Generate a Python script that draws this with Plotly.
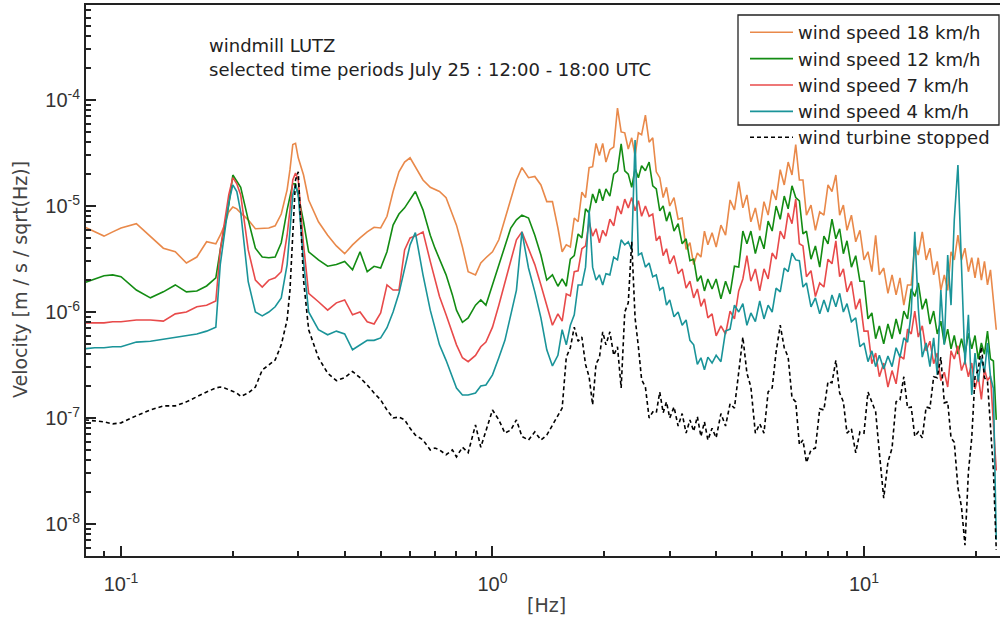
import plotly.graph_objects as go

# ---------------- data ----------------
FREQ_HZ = [
    # 0.08 - 1.45 Hz
    0.08, 0.085, 0.09, 0.095, 0.1, 0.11, 0.12, 0.13, 0.14, 0.15,
    0.16, 0.17, 0.18, 0.185, 0.19, 0.195, 0.2, 0.205, 0.21, 0.22,
    0.23, 0.24, 0.25, 0.26, 0.27, 0.28, 0.285, 0.29, 0.295, 0.3,
    0.31, 0.32, 0.34, 0.36, 0.38, 0.4, 0.42, 0.44, 0.46, 0.48,
    0.5, 0.52, 0.54, 0.56, 0.58, 0.6, 0.62, 0.65, 0.68, 0.7,
    0.72, 0.75, 0.78, 0.8, 0.83, 0.86, 0.9, 0.93, 0.96, 1.0,
    1.04, 1.08, 1.12, 1.16, 1.2, 1.25, 1.3, 1.35, 1.4, 1.45,
    # 1.5 - 22.7 Hz
    1.5, 1.54, 1.58, 1.62, 1.66, 1.7, 1.74, 1.78, 1.82, 1.86,
    1.9, 1.94, 1.98, 2.02, 2.07, 2.12, 2.17, 2.22, 2.27, 2.32,
    2.37, 2.42, 2.47, 2.52, 2.58, 2.64, 2.7, 2.76, 2.82, 2.88,
    2.94, 3.0, 3.08, 3.16, 3.24, 3.32, 3.4, 3.48, 3.56, 3.64,
    3.72, 3.8, 3.9, 4.0, 4.12, 4.24, 4.36, 4.48, 4.6, 4.72,
    4.84, 4.96, 5.1, 5.24, 5.38, 5.52, 5.66, 5.8, 5.95, 6.1,
    6.25, 6.4, 6.55, 6.7, 6.85, 7.0, 7.2, 7.4, 7.6, 7.8,
    8.0, 8.2, 8.4, 8.6, 8.8, 9.0, 9.25, 9.5, 9.75, 10.0,
    10.25, 10.5, 10.75, 11.0, 11.3, 11.6, 11.9, 12.2, 12.5, 12.8,
    13.1, 13.4, 13.7, 14.0, 14.35, 14.7, 15.05, 15.4, 15.75, 16.1,
    16.45, 16.8, 17.15, 17.5, 17.9, 18.3, 18.7, 19.1, 19.5, 19.9,
    20.3, 20.7, 21.1, 21.5, 21.9, 22.3, 22.7,
]

WIND_18 = [
    6.3e-6, 5.7e-6, 5.2e-6, 5.7e-6, 6.2e-6, 6.8e-6, 5.1e-6, 4.0e-6, 3.7e-6, 2.9e-6,
    3.3e-6, 4.6e-6, 4.4e-6, 5.3e-6, 6.6e-6, 8.8e-6, 9.8e-6, 9.4e-6, 8.6e-6, 7.4e-6,
    6.1e-6, 6.1e-6, 6.2e-6, 6.5e-6, 8.4e-6, 1.42e-5, 2.2e-5, 3.8e-5, 3.9e-5, 2.85e-5,
    1.96e-5, 1.14e-5, 7.1e-6, 5.3e-6, 4.2e-6, 3.55e-6, 4.3e-6, 5.0e-6, 5.7e-6, 6.3e-6,
    6.2e-6, 8.0e-6, 1.37e-5, 2.1e-5, 2.6e-5, 2.85e-5, 2.35e-5, 1.76e-5, 1.5e-5, 1.42e-5,
    1.37e-5, 1.2e-5, 8.2e-6, 6.6e-6, 4.1e-6, 2.4e-6, 2.24e-6, 2.9e-6, 3.25e-6, 3.7e-6,
    4.8e-6, 7.4e-6, 1.14e-5, 1.76e-5, 2.3e-5, 1.85e-5, 1.9e-5, 1.58e-5, 1.1e-5, 1.1e-5,
    6.2e-6, 3.7e-6, 4.3e-6, 4.1e-6, 7.7e-6, 7.1e-6, 1.35e-5, 1.2e-5, 2.3e-5, 2.35e-5,
    3.9e-5, 3.0e-5, 3.9e-5, 2.6e-5, 3.4e-5, 3.6e-5, 8.4e-5, 5.0e-5, 4.9e-5, 3.45e-5,
    4.4e-5, 3.0e-5, 4.9e-5, 4.7e-5, 7.2e-5, 4.0e-5, 4.4e-5, 2.1e-5, 1.85e-5, 1.2e-5,
    1.5e-5, 1.0e-5, 1.2e-5, 7.5e-6, 7.7e-6, 3.9e-6, 4.5e-6, 2.8e-6, 3.6e-6, 3.3e-6,
    5.8e-6, 4.3e-6, 5.6e-6, 4.1e-6, 6.6e-6, 5.3e-6, 1.14e-5, 9.2e-6, 1.7e-5, 9.6e-6,
    1.27e-5, 7.1e-6, 9.6e-6, 5.9e-6, 1.1e-5, 8.2e-6, 1.42e-5, 1.14e-5, 2.2e-5, 1.58e-5,
    2.6e-5, 1.96e-5, 3.8e-5, 1.76e-5, 1.76e-5, 8.2e-6, 1.02e-5, 5.9e-6, 8.8e-6, 8.2e-6,
    1.58e-5, 1.37e-5, 1.96e-5, 8.2e-6, 1.02e-5, 5.9e-6, 8.2e-6, 4.6e-6, 5.9e-6, 3.1e-6,
    3.7e-6, 2.4e-6, 5.3e-6, 2.24e-6, 2.6e-6, 1.5e-6, 2.24e-6, 1.45e-6, 2.1e-6, 1.16e-6,
    1.8e-6, 1.8e-6, 4.3e-6, 3.45e-6, 5.7e-6, 3.1e-6, 4.0e-6, 2.24e-6, 3.0e-6, 1.6e-6,
    2.24e-6, 1.6e-6, 3.7e-6, 3.1e-6, 5.3e-6, 3.1e-6, 4.0e-6, 2.4e-6, 3.25e-6, 2.1e-6,
    3.25e-6, 2.0e-6, 3.0e-6, 1.8e-6, 2.5e-6, 1.3e-6, 6.8e-7,
]

WIND_12 = [
    1.9e-6, 2.05e-6, 2.2e-6, 2.24e-6, 2.15e-6, 1.61e-6, 1.36e-6, 1.55e-6, 1.8e-6, 1.55e-6,
    1.58e-6, 1.76e-6, 2.1e-6, 3.85e-6, 6.2e-6, 1.02e-5, 1.96e-5, 1.7e-5, 1.5e-5, 7.4e-6,
    4.0e-6, 3.3e-6, 3.25e-6, 3.3e-6, 4.5e-6, 9.2e-6, 1.27e-5, 1.62e-5, 1.62e-5, 1.27e-5,
    7.1e-6, 3.7e-6, 3.1e-6, 2.7e-6, 2.8e-6, 3.0e-6, 2.5e-6, 3.7e-6, 2.4e-6, 2.7e-6,
    2.6e-6, 3.7e-6, 6.6e-6, 8.4e-6, 9.6e-6, 1.14e-5, 1.37e-5, 9.2e-6, 5.3e-6, 4.0e-6,
    3.1e-6, 2.24e-6, 1.45e-6, 1.04e-6, 8.0e-7, 8.8e-7, 1.16e-6, 1.3e-6, 1.16e-6, 1.8e-6,
    2.8e-6, 4.3e-6, 6.2e-6, 7.4e-6, 8.2e-6, 7.7e-6, 5.3e-6, 3.45e-6, 2.0e-6, 2.24e-6,
    1.75e-6, 2.05e-6, 1.75e-6, 3.15e-6, 3.4e-6, 5.45e-6, 5.0e-6, 9.4e-6, 8.6e-6, 1.3e-5,
    1.07e-5, 1.45e-5, 1.12e-5, 1.45e-5, 1.24e-5, 2.0e-5, 2.15e-5, 3.85e-5, 2.15e-5, 2.0e-5,
    1.5e-5, 2.25e-5, 1.85e-5, 2.4e-5, 2.15e-5, 2.6e-5, 1.55e-5, 1.45e-5, 9.0e-6, 1.0e-5,
    7.2e-6, 8.8e-6, 5.8e-6, 6.8e-6, 4.4e-6, 4.9e-6, 3.05e-6, 3.15e-6, 1.95e-6, 2.2e-6,
    1.58e-6, 2.05e-6, 1.65e-6, 2.05e-6, 1.33e-6, 1.95e-6, 1.48e-6, 2.7e-6, 2.65e-6, 5.8e-6,
    4.4e-6, 5.8e-6, 3.55e-6, 5.2e-6, 3.95e-6, 7.2e-6, 5.8e-6, 1.0e-5, 7.5e-6, 1.24e-5,
    9.4e-6, 1.55e-5, 1.2e-5, 1.12e-5, 5.45e-6, 5.8e-6, 3.15e-6, 4.2e-6, 2.65e-6, 5.2e-6,
    4.4e-6, 7.5e-6, 4.9e-6, 6.1e-6, 3.55e-6, 4.7e-6, 2.65e-6, 3.4e-6, 1.95e-6, 1.95e-6,
    8.6e-7, 9.8e-7, 5.6e-7, 7.4e-7, 5.0e-7, 7.7e-7, 5.6e-7, 8.6e-7, 6.2e-7, 1.02e-6,
    8.6e-7, 1.65e-6, 1.4e-6, 1.88e-6, 1.06e-6, 1.33e-6, 7.7e-7, 1.02e-6, 6.2e-7, 8.2e-7,
    5.0e-7, 6.9e-7, 4.5e-7, 6.0e-7, 4.0e-7, 5.6e-7, 4.0e-7, 6.3e-7, 4.5e-7, 6.0e-7,
    3.6e-7, 5.1e-7, 4.0e-7, 6.6e-7, 3.6e-7, 3.45e-7, 9.6e-8,
]

WIND_7 = [
    7.9e-7, 7.9e-7, 7.9e-7, 8.1e-7, 8.1e-7, 8.4e-7, 8.4e-7, 8.2e-7, 9.6e-7, 1.0e-6,
    1.12e-6, 1.16e-6, 1.27e-6, 3.85e-6, 7.1e-6, 1.27e-5, 1.85e-5, 1.62e-5, 1.27e-5, 3.85e-6,
    2.0e-6, 1.72e-6, 2.0e-6, 2.1e-6, 2.4e-6, 5.3e-6, 9.2e-6, 1.76e-5, 2.05e-5, 1.76e-5,
    4.3e-6, 1.5e-6, 1.25e-6, 1.04e-6, 1.22e-6, 1.3e-6, 9.4e-7, 1.0e-6, 8.1e-7, 7.7e-7,
    9.8e-7, 1.8e-6, 1.61e-6, 1.61e-6, 3.85e-6, 5.0e-6, 5.2e-6, 5.7e-6, 3.0e-6, 2.0e-6,
    1.4e-6, 9.4e-7, 6.5e-7, 4.9e-7, 3.7e-7, 3.4e-7, 3.9e-7, 4.7e-7, 5.2e-7, 7.2e-7,
    1.16e-6, 1.93e-6, 3.0e-6, 4.8e-6, 5.7e-6, 4.0e-6, 2.8e-6, 1.8e-6, 1.16e-6, 7.5e-7,
    9.6e-7, 8.2e-7, 1.48e-6, 1.42e-6, 2.4e-6, 2.45e-6, 3.95e-6, 4.2e-6, 7.1e-6, 5.2e-6,
    6.1e-6, 4.5e-6, 5.9e-6, 5.2e-6, 7.5e-6, 6.5e-6, 1.0e-5, 8.4e-6, 1.16e-5, 9.6e-6,
    1.2e-5, 9.0e-6, 1.12e-5, 8.0e-6, 1.0e-5, 8.0e-6, 8.4e-6, 4.7e-6, 5.2e-6, 3.4e-6,
    3.95e-6, 2.85e-6, 3.4e-6, 2.3e-6, 2.55e-6, 1.68e-6, 1.95e-6, 1.36e-6, 1.65e-6, 1.13e-6,
    1.33e-6, 8.8e-7, 9.6e-7, 5.95e-7, 7.4e-7, 6.2e-7, 1.02e-6, 8.6e-7, 1.58e-6, 2.05e-6,
    3.4e-6, 1.95e-6, 2.55e-6, 1.58e-6, 2.55e-6, 2.05e-6, 3.6e-6, 3.15e-6, 5.8e-6, 4.9e-6,
    8.6e-6, 6.8e-6, 1.16e-5, 4.4e-6, 4.2e-6, 2.15e-6, 2.45e-6, 1.4e-6, 1.88e-6, 1.72e-6,
    3.15e-6, 2.85e-6, 4.7e-6, 2.15e-6, 2.55e-6, 1.55e-6, 1.95e-6, 1.06e-6, 1.33e-6, 6.6e-7,
    6.6e-7, 3.25e-7, 4.1e-7, 2.45e-7, 3.3e-7, 1.96e-7, 2.8e-7, 2.1e-7, 3.85e-7, 3.6e-7,
    6.9e-7, 6.2e-7, 1.02e-6, 5.8e-7, 7.4e-7, 4.3e-7, 5.3e-7, 3.25e-7, 4.1e-7, 2.25e-7,
    2.7e-7, 1.96e-7, 4.3e-7, 3.6e-7, 4.8e-7, 2.8e-7, 3.45e-7, 2.45e-7, 3.3e-7, 1.88e-7,
    2.5e-7, 1.5e-7, 2.9e-7, 2.25e-7, 2.5e-7, 9.8e-8, 3.2e-8,
]

WIND_4 = [
    4.5e-7, 4.6e-7, 4.6e-7, 4.7e-7, 4.7e-7, 5.2e-7, 5.3e-7, 5.55e-7, 5.7e-7, 5.95e-7,
    6.2e-7, 6.6e-7, 7.2e-7, 2.8e-6, 5.7e-6, 1.07e-5, 1.58e-5, 1.37e-5, 8.8e-6, 1.93e-6,
    1.0e-6, 9.2e-7, 1.0e-6, 1.12e-6, 1.36e-6, 2.8e-6, 5.9e-6, 1.27e-5, 1.58e-5, 1.27e-5,
    3.0e-6, 1.0e-6, 6.8e-7, 6.1e-7, 6.6e-7, 6.2e-7, 4.4e-7, 4.9e-7, 5.4e-7, 5.4e-7,
    5.7e-7, 7.1e-7, 1.0e-6, 1.5e-6, 2.5e-6, 4.3e-6, 5.6e-6, 2.24e-6, 1.04e-6, 7.1e-7,
    4.9e-7, 3.5e-7, 2.4e-7, 1.92e-7, 1.65e-7, 1.65e-7, 1.72e-7, 2.0e-7, 2.05e-7, 2.55e-7,
    3.7e-7, 5.4e-7, 9.4e-7, 1.61e-6, 5.7e-6, 2.6e-6, 1.55e-6, 8.8e-7, 4.4e-7, 3.1e-7,
    3.9e-7, 6.8e-7, 4.9e-7, 7.5e-7, 9.4e-7, 1.8e-6, 1.8e-6, 2.65e-6, 9.2e-6, 2.65e-6,
    2.0e-6, 2.24e-6, 1.8e-6, 2.3e-6, 2.24e-6, 3.3e-6, 3.1e-6, 4.8e-6, 4.3e-6, 4.6e-6,
    3.85e-6, 4.2e-5, 3.45e-6, 3.6e-6, 2.65e-6, 2.9e-6, 2.15e-6, 2.24e-6, 1.61e-6, 1.72e-6,
    1.16e-6, 1.3e-6, 9.0e-7, 1.0e-6, 7.5e-7, 8.4e-7, 5.4e-7, 4.9e-7, 3.2e-7, 3.7e-7,
    2.85e-7, 3.75e-7, 3.3e-7, 3.9e-7, 3.4e-7, 6.6e-7, 6.9e-7, 1.16e-6, 1.0e-6, 1.2e-6,
    7.5e-7, 9.8e-7, 8.1e-7, 1.27e-6, 8.6e-7, 1.16e-6, 1.0e-6, 1.68e-6, 1.55e-6, 2.6e-6,
    2.4e-6, 3.6e-6, 3.1e-6, 3.05e-6, 1.72e-6, 1.88e-6, 1.12e-6, 1.36e-6, 9.6e-7, 1.3e-6,
    1.0e-6, 1.45e-6, 1.12e-6, 1.5e-6, 1.0e-6, 1.2e-6, 8.1e-7, 8.8e-7, 4.7e-7, 5.1e-7,
    3.4e-7, 4.3e-7, 3.05e-7, 3.9e-7, 2.9e-7, 3.85e-7, 3.05e-7, 4.6e-7, 3.75e-7, 5.7e-7,
    5.2e-7, 9.8e-7, 5.7e-6, 1.09e-6, 3.75e-7, 5.1e-7, 3.05e-7, 5.7e-7, 2.55e-7, 1.61e-6,
    4.9e-7, 3.45e-6, 1.16e-6, 7.4e-6, 2.44e-5, 2.8e-6, 3.2e-7, 9.4e-7, 1.65e-7, 4.1e-7,
    2.2e-7, 3.7e-7, 2.7e-7, 5.1e-7, 2.45e-7, 1.9e-7, 7.1e-9,
]

STOPPED = [
    9.6e-8, 9.4e-8, 9.2e-8, 8.8e-8, 9.0e-8, 1.05e-7, 1.19e-7, 1.3e-7, 1.3e-7, 1.42e-7,
    1.6e-7, 1.76e-7, 1.92e-7, 1.96e-7, 1.92e-7, 1.84e-7, 1.76e-7, 1.72e-7, 1.6e-7, 1.72e-7,
    1.96e-7, 2.84e-7, 3.16e-7, 3.53e-7, 4.9e-7, 8.4e-7, 1.61e-6, 5.9e-6, 1.76e-5, 2.1e-5,
    2.0e-6, 6.8e-7, 3.7e-7, 2.65e-7, 2.25e-7, 2.4e-7, 2.75e-7, 2.4e-7, 2.05e-7, 1.72e-7,
    1.48e-7, 1.19e-7, 1.0e-7, 1.02e-7, 9.6e-8, 8.0e-8, 6.9e-8, 6.2e-8, 5.0e-8, 5.2e-8,
    5.0e-8, 4.5e-8, 5.0e-8, 4.3e-8, 5.3e-8, 4.7e-8, 8.6e-8, 5.3e-8, 7.7e-8, 1.19e-7,
    9.6e-8, 7.2e-8, 7.7e-8, 9.6e-8, 6.7e-8, 6.2e-8, 7.4e-8, 6.2e-8, 6.9e-8, 8.6e-8,
    1.03e-7, 1.24e-7, 3.75e-7, 4.6e-7, 7.2e-7, 5.3e-7, 5.8e-7, 3.2e-7, 2.45e-7, 1.33e-7,
    3.25e-7, 3.7e-7, 6.5e-7, 4.9e-7, 6.5e-7, 3.9e-7, 4.7e-7, 1.92e-7, 1.0e-6, 1.22e-6,
    4.6e-6, 8.8e-7, 4.7e-7, 2.3e-7, 1.96e-7, 1.0e-7, 1.14e-7, 1.12e-7, 1.76e-7, 1.12e-7,
    1.42e-7, 1.0e-7, 1.27e-7, 8.4e-8, 1.1e-7, 7.2e-8, 9.6e-8, 7.5e-8, 1.03e-7, 6.7e-8,
    9.2e-8, 6.2e-8, 8.0e-8, 6.5e-8, 1.1e-7, 8.4e-8, 1.36e-7, 1.24e-7, 2.7e-7, 5.8e-7,
    2.65e-7, 1.96e-7, 7.2e-8, 8.8e-8, 7.2e-8, 1.76e-7, 1.92e-7, 4.2e-7, 7.5e-7, 4.6e-7,
    3.75e-7, 1.55e-7, 1.42e-7, 5.6e-8, 6.2e-8, 3.8e-8, 5.0e-8, 5.2e-8, 1.22e-7, 1.19e-7,
    2.2e-7, 2.15e-7, 3.5e-7, 1.72e-7, 1.42e-7, 7.2e-8, 7.9e-8, 4.7e-8, 7.4e-8, 7.2e-8,
    1.76e-7, 1.39e-7, 1.14e-7, 4.7e-8, 1.75e-8, 3.85e-8, 5.2e-8, 1.42e-7, 1.48e-7, 2.45e-7,
    1.24e-7, 1.27e-7, 6.7e-8, 7.4e-8, 6.5e-8, 1.27e-7, 1.24e-7, 2.45e-7, 2.4e-7, 3.75e-7,
    1.39e-7, 1.42e-7, 6.5e-8, 5.9e-8, 2.2e-8, 1.45e-8, 6.3e-9, 3.1e-8, 6.5e-8, 2.45e-7,
    2.85e-7, 4.7e-7, 2.4e-7, 2.2e-7, 8.9e-8, 3.2e-8, 5.7e-9,
]

SERIES_NAMES = ["wind speed 18 km/h", "wind speed 12 km/h", "wind speed 7 km/h",
                "wind speed 4 km/h", "wind turbine stopped"]
X_TICKS = [0.1, 1, 10]
X_TICK_TEXT = ["10<sup>-1</sup>", "10<sup>0</sup>", "10<sup>1</sup>"]
Y_TICKS = [1e-8, 1e-7, 1e-6, 1e-5, 1e-4]
Y_TICK_TEXT = ["10<sup>-8</sup>", "10<sup>-7</sup>", "10<sup>-6</sup>",
               "10<sup>-5</sup>", "10<sup>-4</sup>"]

for name, arr in [("18", WIND_18), ("12", WIND_12), ("7", WIND_7),
                  ("4", WIND_4), ("stop", STOPPED)]:
    if len(arr) != len(FREQ_HZ):
        raise ValueError(f"length mismatch {name}: {len(arr)} vs {len(FREQ_HZ)}")

# ---------------- figure ----------------
COLORS = ["#E9894A", "#138C13", "#E84A4A", "#1A9499"]
AXC = "#222222"
TXT = "DejaVu Sans"

fig = go.Figure()
for i, (vals, name, col) in enumerate(zip([WIND_18, WIND_12, WIND_7, WIND_4],
                                          SERIES_NAMES[:4], COLORS)):
    fig.add_trace(go.Scatter(x=FREQ_HZ, y=vals, mode="lines", name=name,
                             legendgroup=f"g{i}",
                             line=dict(color=col, width=1.6), legend="legend"))
fig.add_trace(go.Scatter(x=FREQ_HZ, y=STOPPED, mode="lines", name=SERIES_NAMES[4],
                         line=dict(color="#000000", width=1.6, dash="4px,3px"),
                         legend="legend2"))

x_minor = [0.09] + [k / 10 for k in range(2, 10)] + list(range(2, 10)) + [20]
y_minor = [m * 10.0 ** e for e in range(-9, -3) for m in range(2, 10)]

fig.update_layout(
    width=1001, height=628,
    margin=dict(l=86, r=1, t=5, b=72),
    paper_bgcolor="white", plot_bgcolor="white",
    font=dict(family=TXT, size=18, color=AXC),
    xaxis=dict(
        type="log", range=[-1.0942, 1.3661],
        showgrid=False, zeroline=False,
        showline=True, linecolor=AXC, linewidth=2, mirror=True,
        ticks="inside", ticklen=10, tickwidth=1.5, tickcolor=AXC,
        tickmode="array", tickvals=X_TICKS, ticktext=X_TICK_TEXT,
        tickfont=dict(family="Liberation Sans", size=20, color="#333333"),
        ticklabelstandoff=9,
        minor=dict(tickmode="array", tickvals=x_minor, ticks="inside",
                   ticklen=5, tickwidth=1.5, tickcolor=AXC, showgrid=False),
    ),
    yaxis=dict(
        type="log", range=[-8.3019, -3.1038],
        showgrid=False, zeroline=False,
        showline=True, linecolor=AXC, linewidth=2,
        ticks="inside", ticklen=10, tickwidth=1.5, tickcolor=AXC,
        tickmode="array", tickvals=Y_TICKS, ticktext=Y_TICK_TEXT,
        tickfont=dict(family="Liberation Sans", size=20, color="#333333"),
        ticklabelstandoff=0,
        minor=dict(tickmode="array", tickvals=y_minor, ticks="inside",
                   ticklen=5, tickwidth=1.5, tickcolor=AXC, showgrid=False),
    ),
    legend=dict(x=(745 - 86) / 914, y=(556 - 14) / 551, xanchor="left", yanchor="top",
                bgcolor="rgba(0,0,0,0)", borderwidth=0, itemwidth=43,
                font=dict(family=TXT, size=18, color=AXC), tracegroupgap=0),
    legend2=dict(x=(745 - 86) / 914, y=(556 - 119) / 551, xanchor="left", yanchor="top",
                 bgcolor="rgba(0,0,0,0)", borderwidth=0, itemwidth=43,
                 font=dict(family=TXT, size=18, color=AXC)),
    shapes=[dict(type="rect", xref="paper", yref="paper",
                 x0=(738 - 86) / 914, x1=(999 - 86) / 914,
                 y0=(556 - 125) / 551, y1=(556 - 15) / 551,
                 line=dict(color=AXC, width=1.3), fillcolor="rgba(0,0,0,0)")],
    annotations=[
        dict(text="windmill LUTZ", xref="paper", yref="paper",
             x=(207 - 86) / 914, y=(556 - 45) / 551, xanchor="left", yanchor="middle",
             showarrow=False, font=dict(family=TXT, size=18, color=AXC)),
        dict(text="selected time periods July 25 : 12:00 - 18:00 UTC", xref="paper", yref="paper",
             x=(207 - 86) / 914, y=(556 - 70) / 551, xanchor="left", yanchor="middle",
             showarrow=False, font=dict(family=TXT, size=18, color=AXC)),
        dict(text="Velocity [m / s / sqrt(Hz)]", xref="paper", yref="paper",
             x=(20 - 86) / 914, y=(556 - 280) / 551, xanchor="center", yanchor="middle",
             textangle=-90, showarrow=False, font=dict(family=TXT, size=19, color="#444444")),
        dict(text="[Hz]", xref="paper", yref="paper",
             x=(546 - 86) / 914, y=(556 - 605) / 551, xanchor="center", yanchor="middle",
             showarrow=False, font=dict(family=TXT, size=19, color="#444444")),
    ],
)

fig.write_html("out.html")
